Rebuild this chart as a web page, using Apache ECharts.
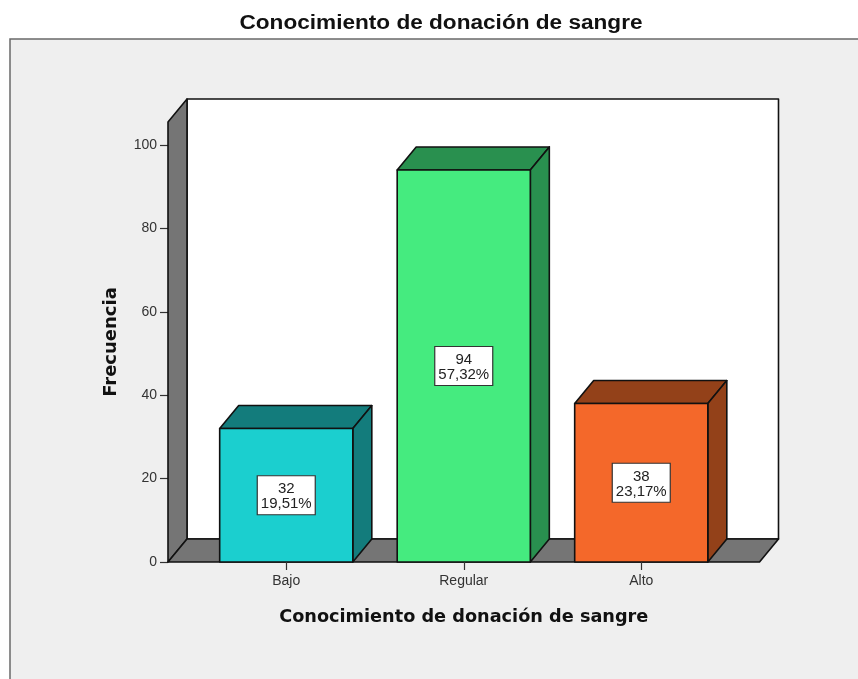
<!DOCTYPE html>
<html><head><meta charset="utf-8">
<style>html,body{margin:0;padding:0;background:#fff}#c{width:858px;height:679px}</style>
<script src="https://cdn.jsdelivr.net/npm/echarts@6/dist/echarts.min.js"></script>
</head><body><div id="c"></div>
<script>
const categories = ['Bajo', 'Regular', 'Alto'];
const counts = [32, 94, 38];
const percents = ['19,51%', '57,32%', '23,17%'];
const frontColors = ['#1BCFCF', '#45EB7F', '#F4682A'];
const sideColors = ['#137C7C', '#29904F', '#934119'];
const titleText = 'Conocimiento de donación de sangre';
const yName = 'Frecuencia';
const yTicks = [0, 20, 40, 60, 80, 100];

const DX = 19, DY = -23, EDGE = '#111', LINE = 1.6, OVER = 29.5;
const chart = echarts.init(document.getElementById('c'), null, {renderer: 'canvas'});
const poly = (pts, fill, z) => ({type: 'polygon', z2: z || 0, shape: {points: pts},
  style: {fill, stroke: EDGE, lineWidth: LINE, lineJoin: 'round'}});

function renderRoom(params) {
  const g = params.coordSys;
  const l = g.x - OVER, r = g.x + g.width + OVER, t = g.y, b = g.y + g.height;
  return {type: 'group', silent: true, children: [
    poly([[l + DX, t + DY], [r + DX, t + DY], [r + DX, b + DY], [l + DX, b + DY]], '#fff'),
    poly([[l, t], [l + DX, t + DY], [l + DX, b + DY], [l, b]], '#757575'),
    poly([[l, b], [l + DX, b + DY], [r + DX, b + DY], [r, b]], '#757575')
  ]};
}
function renderBar(params, api) {
  const i = api.value(0), v = api.value(1);
  const top = api.coord([i, v]), base = api.coord([i, 0]);
  const w = api.size([1, 0])[0] * 0.75;
  const x0 = top[0] - w / 2, x1 = top[0] + w / 2, y0 = top[1], y1 = base[1];
  const cy = (y0 + y1) / 2, bw = 58, bh = 39;
  return {type: 'group', silent: true, children: [
    poly([[x0, y0], [x1, y0], [x1 + DX, y0 + DY], [x0 + DX, y0 + DY]], sideColors[i]),
    poly([[x1, y0], [x1 + DX, y0 + DY], [x1 + DX, y1 + DY], [x1, y1]], sideColors[i]),
    poly([[x0, y0], [x1, y0], [x1, y1], [x0, y1]], frontColors[i]),
    {type: 'rect', shape: {x: top[0] - bw / 2, y: cy - bh / 2, width: bw, height: bh},
     style: {fill: '#fff', stroke: '#333', lineWidth: 1.2}},
    {type: 'text', style: {x: top[0], y: cy + 1.5, text: counts[i] + '\n' + percents[i],
      align: 'center', verticalAlign: 'middle', fill: '#222', lineHeight: 15,
      font: '15px "Liberation Sans"'}}
  ]};
}

chart.setOption({
  animation: false,
  backgroundColor: '#fff',
  graphic: [
    {type: 'rect', z: -10, silent: true,
     shape: {x: 10, y: 39, width: 860, height: 660},
     style: {fill: '#EFEFEF', stroke: '#6a6a6a', lineWidth: 1.5}},
    {type: 'text', z: 10, silent: true, x: 441, y: 23, scaleX: 1.13, originX: 0, originY: 0,
     style: {text: titleText, align: 'center', verticalAlign: 'middle', fill: '#111',
       font: 'bold 20px "Liberation Sans"'}}
  ],
  grid: {left: 197.5, top: 122, width: 532.5, height: 440, containLabel: false},
  xAxis: {type: 'category', data: categories,
    name: titleText, nameLocation: 'middle', nameGap: 46,
    nameTextStyle: {fontFamily: 'DejaVu Sans', fontWeight: 'bold', fontSize: 17.7, color: '#111'},
    axisLine: {show: false},
    axisTick: {show: true, alignWithLabel: true, length: 8, lineStyle: {color: '#333', width: 1.2}},
    axisLabel: {fontFamily: 'Liberation Sans', fontSize: 14, color: '#333', margin: 12},
    z: 5},
  yAxis: {type: 'value', min: 0, max: 105.5, interval: 20, offset: 29.5,
    name: yName, nameLocation: 'middle', nameGap: 48, nameRotate: 90,
    nameTextStyle: {fontFamily: 'DejaVu Sans', fontWeight: 'bold', fontSize: 18, color: '#111'},
    axisLine: {show: false}, splitLine: {show: false},
    axisTick: {show: true, length: 8, lineStyle: {color: '#333', width: 1.2}},
    axisLabel: {fontFamily: 'Liberation Sans', fontSize: 14, color: '#333', margin: 11,
      showMaxLabel: false,
      formatter: v => yTicks.includes(v) ? String(v) : ''}},
  series: [
    {type: 'custom', name: 'room', coordinateSystem: 'cartesian2d', z: 1, clip: false,
     renderItem: renderRoom, data: [[0, 0]], silent: true},
    {type: 'custom', name: yName, coordinateSystem: 'cartesian2d', z: 2, clip: false,
     renderItem: renderBar, encode: {x: 0, y: 1},
     data: counts.map((v, i) => [i, v]), silent: true}
  ]
});
</script></body></html>
